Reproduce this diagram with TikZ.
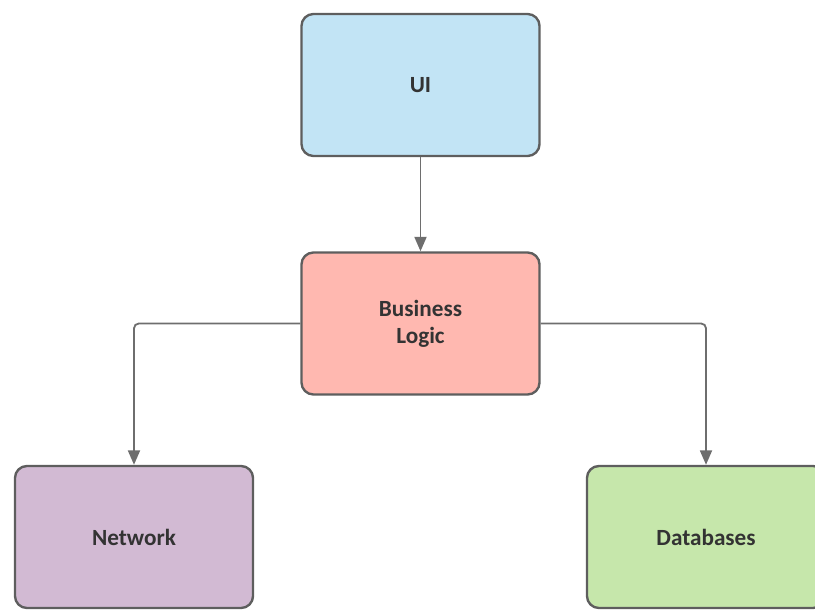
\documentclass[tikz,border=0pt]{standalone}
\usepackage{fontspec}
\setmainfont{Carlito}
\usepackage{tikz}
\usetikzlibrary{arrows.meta,positioning}
\definecolor{uiblue}{HTML}{C2E4F5}
\definecolor{logicred}{HTML}{FFB8B0}
\definecolor{netpurple}{HTML}{D2BAD3}
\definecolor{dbgreen}{HTML}{C6E7AB}
\definecolor{edgegray}{HTML}{5E5E5E}

\tikzset{
  layer/.style={draw=edgegray,line width=1.7pt,rounded corners=0.3cm,
    minimum width=5.95cm,minimum height=3.55cm,align=center,
    font=\fontsize{16.5}{19}\selectfont\bfseries,text=black!80},
  link/.style={draw=edgegray!90,line width=1.3pt,rounded corners=0.12cm,
    -{Triangle[length=0.36cm,width=0.3cm]}}
}

\begin{document}
\begin{tikzpicture}[x=0.025cm,y=-0.025cm]
\useasboundingbox (0,0) rectangle (815,610);
\node[layer,fill=uiblue] (ui) at (420.5,85) {UI};
\node[layer,fill=logicred] (logic) at (420.5,323.5) {Business\\Logic};
\node[layer,fill=netpurple] (net) at (134,537) {Network};
\node[layer,fill=dbgreen] (db) at (706,537) {Databases};
% connectors
\draw[link] (ui.south) -- (logic.north);
\draw[link] (logic.west) -| (net.north);
\draw[link] (logic.east) -| (db.north);
\end{tikzpicture}
\end{document}
